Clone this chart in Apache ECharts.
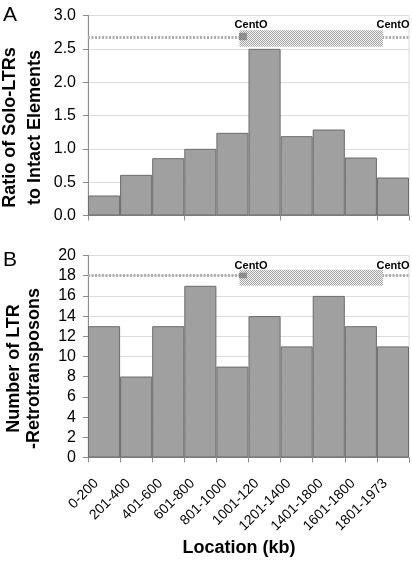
<!DOCTYPE html>
<html>
<head>
<meta charset="utf-8">
<script src="https://cdn.jsdelivr.net/npm/echarts@6/dist/echarts.min.js"></script>
<style>
html,body{margin:0;padding:0;background:#fff;}
#chart{width:412px;height:562px;}
</style>
</head>
<body>
<div id="chart"></div>
<script>
// ---- data ----
const categories = ['0-200', '201-400', '401-600', '601-800', '801-1000', '1001-120', '1201-1400', '1401-1800', '1601-1800', '1801-1973'];
const ratioValues = [0.30, 0.61, 0.86, 1.00, 1.24, 2.50, 1.19, 1.29, 0.87, 0.57];
const countValues = [13, 8, 13, 17, 9, 14, 11, 16, 13, 11];
const ratioTicks = [0, 3, 0.5];   // min, max, interval
const countTicks = [0, 20, 2];
// CentO region, in bin units along the location axis
const centoSpan = [4.72, 9.19];
const centoCore = [4.70, 4.95];
const centoBandA = [2.53, 2.78];
const centoCoreA = [2.63, 2.74];
const centoLineA = 2.67;
const centoBandB = [17.0, 18.6];
const centoCoreB = [17.75, 18.3];
const centoLineB = 18;
const centoLabelX = [5.08, 9.5];
const centoLabelA = 2.86;
const centoLabelB = 19.0;
const centoText = 'CentO';

const FONT = '"Liberation Sans", Arial, sans-serif';

function makePattern(light, dark) {
  const c = document.createElement('canvas');
  c.width = 4; c.height = 4;
  const ctx = c.getContext('2d');
  ctx.fillStyle = light; ctx.fillRect(0, 0, 4, 4);
  ctx.fillStyle = dark;
  for (let y = 0; y < 4; y++) for (let x = 0; x < 4; x++) if ((x + y) % 2 === 0) ctx.fillRect(x, y, 1, 1);
  return { image: c, repeat: 'repeat' };
}
const hatch = makePattern('#f2f2f2', '#a5a5a5');
const hatchDark = makePattern('#a0a0a0', '#7c7c7c');

function rectItem(fill) {
  return function (params, api) {
    const p0 = api.coord([api.value(0), api.value(3)]);
    const p1 = api.coord([api.value(1), api.value(2)]);
    return { type: 'rect', shape: { x: p0[0], y: p0[1], width: p1[0] - p0[0], height: p1[1] - p0[1] }, style: { fill: fill } };
  };
}
function textItem(params, api) {
  const p = api.coord([api.value(0), api.value(1)]);
  return { type: 'text', x: p[0], y: p[1], style: { text: centoText, fontSize: 11, fontWeight: 'bold', fill: '#000', fontFamily: FONT, align: 'center', verticalAlign: 'middle' } };
}

const axisGray = '#8c8c8c';
function catAxis(gridIndex, showLabels) {
  return {
    type: 'category', gridIndex: gridIndex, data: categories,
    boundaryGap: true,
    axisLine: { lineStyle: { color: axisGray } },
    axisTick: { show: true, length: 5, lineStyle: { color: axisGray } },
    axisLabel: showLabels ? { show: true, rotate: 45, fontSize: 14, color: '#000', fontFamily: FONT, margin: 16, interval: 0, padding: [0, 11, 0, 0] } : { show: false },
    splitLine: { show: false },
    name: showLabels ? 'Location (kb)' : '',
    nameLocation: 'middle', nameGap: 82, nameMoveOverlap: false,
    nameTextStyle: { fontSize: 18, fontWeight: 'bold', color: '#000', fontFamily: FONT, padding: [0, 19, 0, 0] }
  };
}
function valAxisX(gridIndex) {
  return { type: 'value', gridIndex: gridIndex, min: 0, max: 10, show: false };
}
function valAxisY(gridIndex, ticks, name, lh, gap, fmt) {
  return {
    type: 'value', gridIndex: gridIndex, min: ticks[0], max: ticks[1], interval: ticks[2],
    axisLine: { show: true, lineStyle: { color: axisGray } },
    axisTick: { show: true, length: 5, lineStyle: { color: axisGray } },
    axisLabel: { fontSize: 16, color: '#000', fontFamily: FONT, margin: 12, formatter: fmt },
    splitLine: { show: true, lineStyle: { color: '#dcdcdc' } },
    name: name, nameLocation: 'middle', nameGap: gap, nameMoveOverlap: false,
    nameTextStyle: { fontSize: 18, fontWeight: 'bold', color: '#000', fontFamily: FONT, lineHeight: lh, padding: [0, 24, 0, 0] }
  };
}

const barStyle = { color: '#a0a0a0', borderColor: '#6b6b6b', borderWidth: 1 };

const chart = echarts.init(document.getElementById('chart'), null, { renderer: 'canvas' });
chart.setOption({
  animation: false,
  textStyle: { fontFamily: FONT },
  graphic: [
    { type: 'text', left: 3, top: 5, style: { text: 'A', fontSize: 21, fill: '#000', fontFamily: FONT } },
    { type: 'text', left: 3, top: 250, style: { text: 'B', fontSize: 21, fill: '#000', fontFamily: FONT } }
  ],
  grid: [
    { left: 88, right: 3, top: 15.5, height: 200, show: true, borderColor: '#dcdcdc', borderWidth: 1, outerBoundsMode: 'none', containLabel: false },
    { left: 88, right: 3, top: 255.5, height: 202, show: true, borderColor: '#dcdcdc', borderWidth: 1, outerBoundsMode: 'none', containLabel: false }
  ],
  xAxis: [catAxis(0, false), catAxis(1, true), valAxisX(0), valAxisX(1)],
  yAxis: [
    valAxisY(0, ratioTicks, 'Ratio of Solo-LTRs\nto Intact Elements', 25, 40, v => v.toFixed(1)),
    valAxisY(1, countTicks, 'Number of LTR\n-Retrotransposons', 20, 44, v => String(v))
  ],
  series: [
    {
      type: 'bar', xAxisIndex: 0, yAxisIndex: 0, data: ratioValues, barCategoryGap: '0%', itemStyle: barStyle,
      markLine: { silent: true, symbol: 'none', label: { show: false }, lineStyle: { color: '#b0b0b0', type: [2, 1.5], width: 3 }, data: [{ yAxis: centoLineA }] }
    },
    {
      type: 'bar', xAxisIndex: 1, yAxisIndex: 1, data: countValues, barCategoryGap: '0%', itemStyle: barStyle,
      markLine: { silent: true, symbol: 'none', label: { show: false }, lineStyle: { color: '#b0b0b0', type: [2, 1.5], width: 3 }, data: [{ yAxis: centoLineB }] }
    },
    { type: 'custom', xAxisIndex: 2, yAxisIndex: 0, z: 5, renderItem: rectItem(hatch), data: [[centoSpan[0], centoSpan[1], centoBandA[0], centoBandA[1]]] },
    { type: 'custom', xAxisIndex: 2, yAxisIndex: 0, z: 6, renderItem: rectItem(hatchDark), data: [[centoCore[0], centoCore[1], centoCoreA[0], centoCoreA[1]]] },
    { type: 'custom', xAxisIndex: 3, yAxisIndex: 1, z: 5, renderItem: rectItem(hatch), data: [[centoSpan[0], centoSpan[1], centoBandB[0], centoBandB[1]]] },
    { type: 'custom', xAxisIndex: 3, yAxisIndex: 1, z: 6, renderItem: rectItem(hatchDark), data: [[centoCore[0], centoCore[1], centoCoreB[0], centoCoreB[1]]] },
    { type: 'custom', xAxisIndex: 2, yAxisIndex: 0, z: 7, renderItem: textItem, data: centoLabelX.map(x => [x, centoLabelA]) },
    { type: 'custom', xAxisIndex: 3, yAxisIndex: 1, z: 7, renderItem: textItem, data: centoLabelX.map(x => [x, centoLabelB]) }
  ]
});
</script>
</body>
</html>
